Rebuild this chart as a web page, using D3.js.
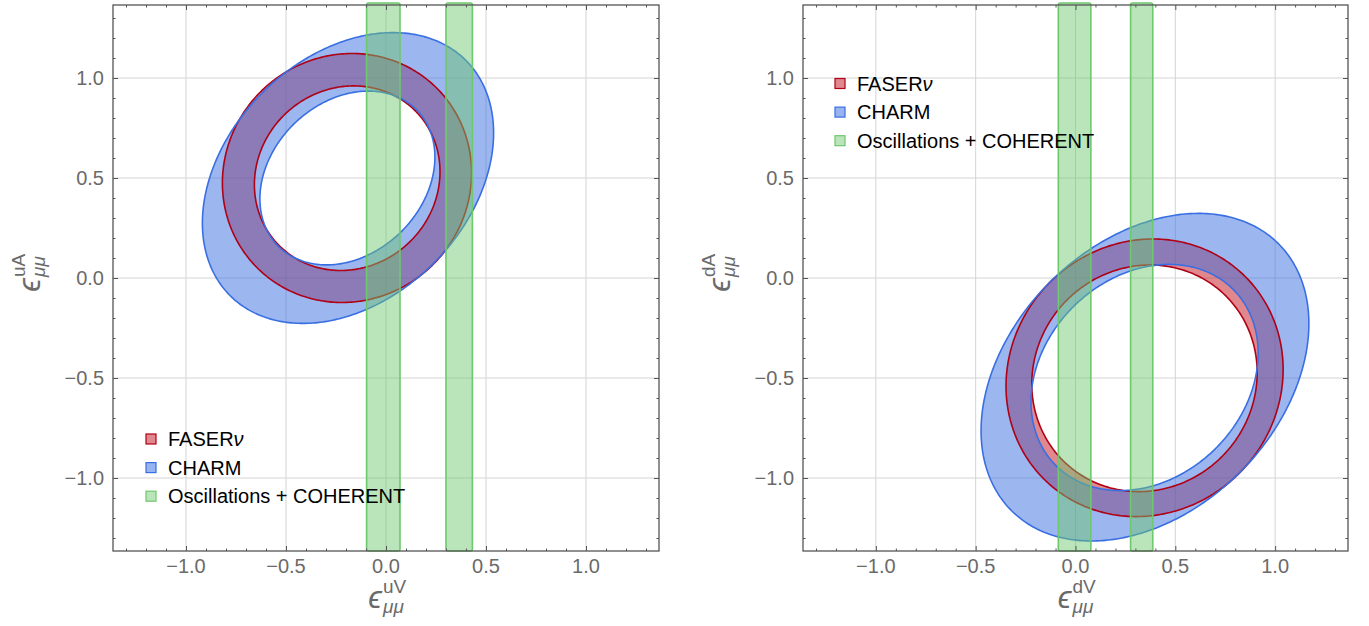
<!DOCTYPE html>
<html><head><meta charset="utf-8">
<script src="https://cdn.jsdelivr.net/npm/d3@7"></script>
<style>
body{margin:0;background:#fff}
text{font-family:"Liberation Sans",Arial,Helvetica,sans-serif}
</style>
</head><body>
<svg id="c" width="1369" height="626"></svg>
<script>
// ---------- data ----------
const xDomain = [-1.365, 1.365];
const yDomain = [-1.365, 1.365];
const majorTicks = [-1.0, -0.5, 0.0, 0.5, 1.0];
const tickLabels = ["\u22121.0", "\u22120.5", "0.0", "0.5", "1.0"];
const legendLabels = ["FASER", "CHARM", "Oscillations + COHERENT"];
// ellipse boundaries: [centre x, centre y, half-width x, half-height y, correlation]
const faserU_outer = [-0.195, 0.500, 0.623, 0.6225, 0.04];
const faserU_inner = [-0.194, 0.499, 0.464, 0.4615, 0.07];
const charmU_outer = [-0.190, 0.500, 0.728, 0.727, 0.31];
const charmU_inner = [-0.193, 0.500, 0.4375, 0.4345, 0.24];
const faserD_outer = [0.346, -0.499, 0.694, 0.694, 0.06];
const faserD_inner = [0.3455, -0.5015, 0.5645, 0.5665, 0.05];
const charmD_outer = [0.348, -0.496, 0.821, 0.819, 0.327];
const charmD_inner = [0.346, -0.4975, 0.569, 0.5655, 0.215];
// allowed vertical bands [x0, x1]
const oscU = [[-0.097, 0.070], [0.300, 0.432]];
const oscD = [[-0.086, 0.077], [0.276, 0.387]];
const xLabels = ["uV", "dV"];
const yLabels = ["uA", "dA"];

// ---------- style ----------
const RED = "#b00014", RED_FILL = "#c4101e";
const BLUE = "#396fe2";
const GREEN = "#6ec86e";
const svg = d3.select("#c");

const panels = [
  {x0: 113, x1: 659, faser: [faserU_outer, faserU_inner], charm: [charmU_outer, charmU_inner], osc: oscU,
   xl: xLabels[0], yl: yLabels[0], legend: [146, 439], ytx: 40, id: "u"},
  {x0: 803, x1: 1348, faser: [faserD_outer, faserD_inner], charm: [charmD_outer, charmD_inner], osc: oscD,
   xl: xLabels[1], yl: yLabels[1], legend: [835, 83.5], ytx: 730, id: "d"}
];
const plotTop = 5, plotBottom = 551;

function ellipsePts(p) {
  const [cx, cy, sx, sy, r] = p;
  const q = Math.sqrt(1 - r * r);
  return d3.range(0, 361).map(i => {
    const t = i * Math.PI / 180;
    return [cx + sx * Math.cos(t), cy + sy * (r * Math.cos(t) + q * Math.sin(t))];
  });
}

panels.forEach(P => {
  const x = d3.scaleLinear().domain(xDomain).range([P.x0, P.x1]);
  const y = d3.scaleLinear().domain(yDomain).range([plotBottom, plotTop]);
  const g = svg.append("g");
  const W = P.x1 - P.x0, H = plotBottom - plotTop;
  g.append("clipPath").attr("id", "clip" + P.id).append("rect")
    .attr("x", P.x0).attr("y", plotTop).attr("width", W).attr("height", H);

  // grid
  majorTicks.forEach(v => {
    g.append("line").attr("x1", x(v)).attr("x2", x(v)).attr("y1", plotTop).attr("y2", plotBottom)
      .attr("stroke", "#d4d4d4").attr("stroke-width", 1);
    g.append("line").attr("y1", y(v)).attr("y2", y(v)).attr("x1", P.x0).attr("x2", P.x1)
      .attr("stroke", "#d4d4d4").attr("stroke-width", 1);
  });

  const line = d3.line().x(d => x(d[0])).y(d => y(d[1]));
  const ring = (outer, inner) => line(ellipsePts(outer)) + "Z" + line(ellipsePts(inner).reverse()) + "Z";
  const cg = g.append("g").attr("clip-path", `url(#clip${P.id})`);

  // fills
  cg.append("path").attr("d", ring(P.faser[0], P.faser[1])).attr("fill", RED_FILL).attr("fill-opacity", 0.5).attr("fill-rule", "evenodd");
  cg.append("path").attr("d", ring(P.charm[0], P.charm[1])).attr("fill", BLUE).attr("fill-opacity", 0.5).attr("fill-rule", "evenodd");
  // boundaries
  P.faser.forEach(e => cg.append("path").attr("d", line(ellipsePts(e)) + "Z").attr("fill", "none").attr("stroke", RED).attr("stroke-width", 1.6));
  P.charm.forEach(e => cg.append("path").attr("d", line(ellipsePts(e)) + "Z").attr("fill", "none").attr("stroke", BLUE).attr("stroke-width", 1.6));

  // green bands
  P.osc.forEach(b => {
    g.append("rect").attr("x", x(b[0])).attr("width", x(b[1]) - x(b[0]))
      .attr("y", plotTop - 2).attr("height", plotBottom - plotTop + 2).attr("rx", 2)
      .attr("fill", GREEN).attr("fill-opacity", 0.48)
      .attr("stroke", GREEN).attr("stroke-width", 1.6);
  });

  // ticks (inward)
  const minor = x.ticks(27).filter(v => !majorTicks.some(m => Math.abs(m - v) < 1e-9));
  const mkAxis = (axis, tr, vals, size) => {
    const a = g.append("g").attr("transform", tr).call(axis.tickValues(vals).tickSize(-size).tickFormat(""));
    a.select(".domain").remove();
    a.selectAll("line").attr("stroke", "#555").attr("stroke-width", 1);
  };
  [[minor, 2.5], [majorTicks, 5]].forEach(([vals, s]) => {
    mkAxis(d3.axisBottom(x), `translate(0,${plotBottom})`, vals, s);
    mkAxis(d3.axisTop(x), `translate(0,${plotTop})`, vals, s);
    mkAxis(d3.axisLeft(y), `translate(${P.x0},0)`, vals, s);
    mkAxis(d3.axisRight(y), `translate(${P.x1},0)`, vals, s);
  });

  // frame
  g.append("rect").attr("x", P.x0).attr("y", plotTop).attr("width", W).attr("height", H)
    .attr("fill", "none").attr("stroke", "#555").attr("stroke-width", 1.3);

  // tick labels
  majorTicks.forEach((v, i) => {
    g.append("text").attr("x", x(v)).attr("y", 573).attr("text-anchor", "middle")
      .attr("font-size", 20).attr("fill", "#6a6a6a").text(tickLabels[i]);
    g.append("text").attr("x", P.x0 - 9).attr("y", y(v) + 7).attr("text-anchor", "end")
      .attr("font-size", 20).attr("fill", "#6a6a6a").text(tickLabels[i]);
  });

  // axis titles
  const title = (tr, sup) => {
    const t = svg.append("g").attr("transform", tr).attr("fill", "#6a6a6a");
    t.append("text").attr("x", -2).attr("y", 0).attr("text-anchor", "end").attr("font-size", 31)
      .attr("font-style", "italic").text("\u03f5");
    t.append("text").attr("x", -1).attr("y", -15).attr("font-size", 19).text(sup);
    t.append("text").attr("x", -1).attr("y", 5).attr("font-size", 19).attr("font-style", "italic").text("\u03bc\u03bc");
  };
  title(`translate(${x(0) - 2},608)`, P.xl);
  title(`translate(${P.ytx},${y(0) - 2}) rotate(-90)`, P.yl);

  // legend
  const colors = [[RED_FILL, RED, 0.5], [BLUE, BLUE, 0.52], [GREEN, GREEN, 0.48]];
  legendLabels.forEach((lab, i) => {
    const ly = P.legend[1] + i * 28.6;
    g.append("rect").attr("x", P.legend[0]).attr("y", ly - 5).attr("width", 10).attr("height", 10)
      .attr("fill", colors[i][0]).attr("fill-opacity", colors[i][2]).attr("stroke", colors[i][1]).attr("stroke-width", 1.2);
    const tx = g.append("text").attr("x", P.legend[0] + 22).attr("y", ly + 7).attr("font-size", 20).attr("fill", "#000").text(lab);
    if (i === 0) tx.append("tspan").attr("font-style", "italic").text("\u03bd");
  });
});
</script>
</body></html>
